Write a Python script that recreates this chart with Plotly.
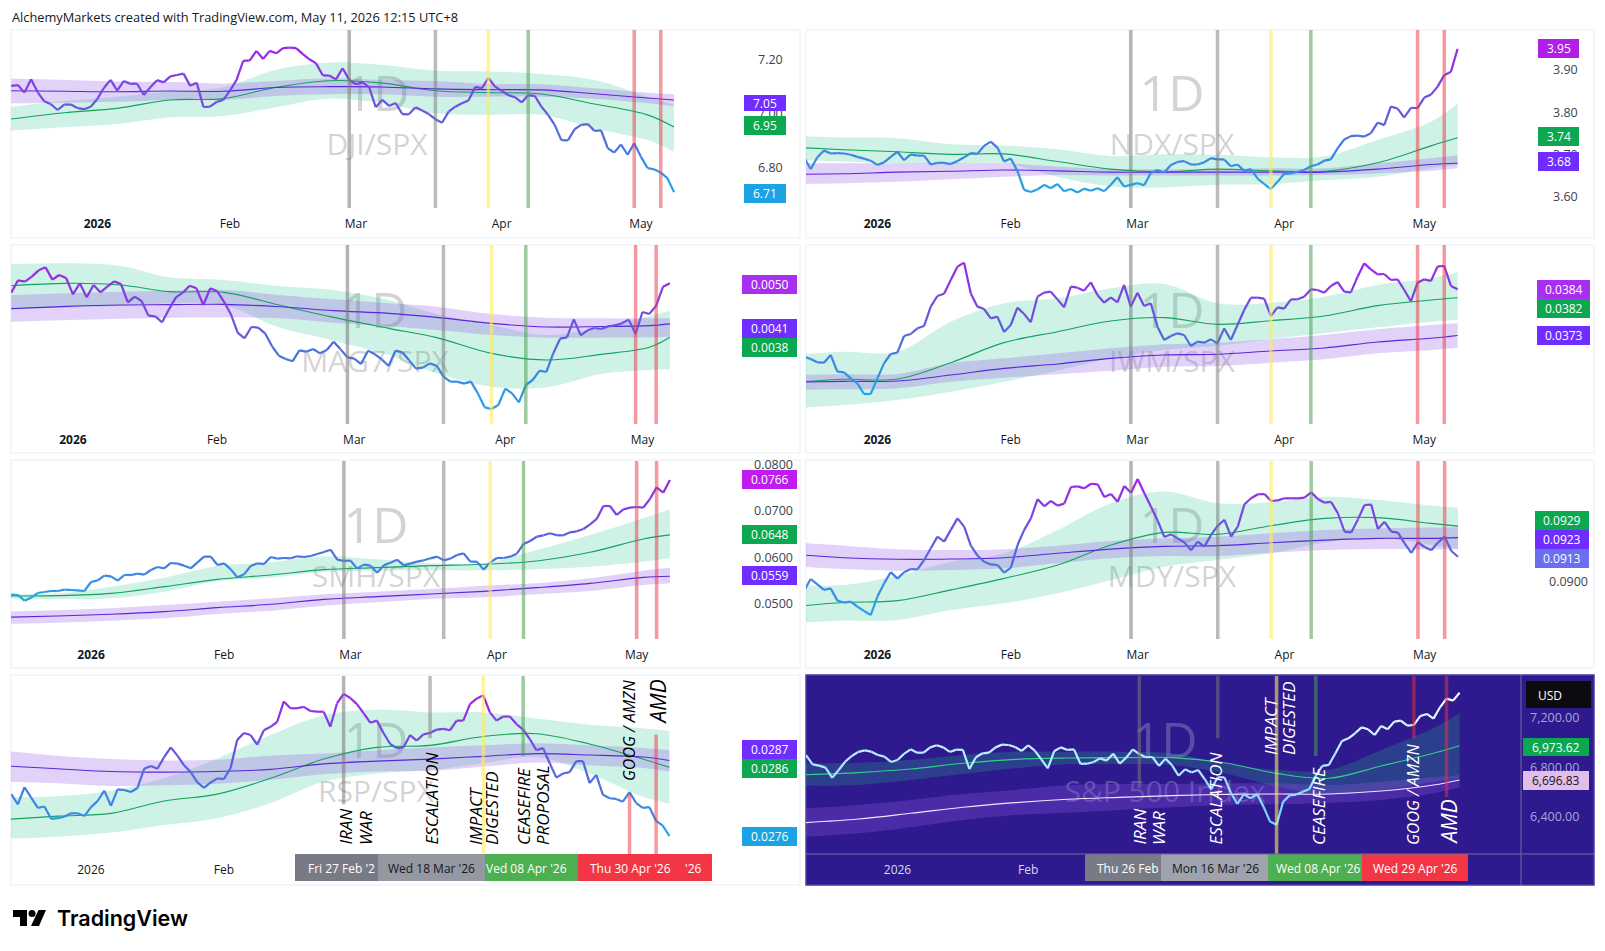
import pandas as pd
import plotly.graph_objects as go

W, H = 1605, 951

MARKET_HOLIDAYS = ["2025-12-25", "2026-01-01", "2026-01-19", "2026-02-16", "2026-04-03"]
TRADING_DAYS = [d.strftime("%Y-%m-%d") for d in pd.bdate_range("2025-12-12", "2026-05-08")
                if d.strftime("%Y-%m-%d") not in MARKET_HOLIDAYS]
DEFAULT_MA_DATES = TRADING_DAYS[0::8] + [TRADING_DAYS[-1]]
MAG7_MA_DATES = [TRADING_DAYS[i] for i in (4, 12, 20, 27, 35, 43, 51, 59, 66, 74, 82, 90, 97, 100)]

TICK_LABELS = ["<b>2026</b>", "Feb", "Mar", "Apr", "May"]
TICK_DATES = ["2026-01-02", "2026-02-02", "2026-03-02", "2026-04-01", "2026-05-01"]
TICK_DATES_MAG7 = ["2026-01-02", "2026-02-03", "2026-03-04", "2026-04-06", "2026-05-04"]
EVENT_DATES = ["2026-02-27", "2026-03-18", "2026-03-30", "2026-04-08", "2026-04-30", "2026-05-06"]
EVENT_DATES_MAG7 = ["2026-03-03", "2026-03-23", "2026-04-01", "2026-04-09", "2026-05-01", "2026-05-06"]
EVENT_DATES_SMH = ["2026-02-27", "2026-03-20", "2026-03-31", "2026-04-08", "2026-05-01", "2026-05-06"]
EVENT_DATES_SPX = ["2026-02-27", "2026-03-17", "2026-03-30", "2026-04-08", "2026-04-29", "2026-05-06"]

# DJI/SPX
DJI_PRICE = [7.102,7.105,7.077,7.126,7.078,7.045,7.034,7.013,7.033,7.033,
             7.020,7.016,7.025,7.054,7.095,7.124,7.084,7.120,7.109,7.110,
             7.068,7.097,7.123,7.115,7.137,7.142,7.147,7.102,7.113,7.024,
             7.025,7.043,7.050,7.084,7.124,7.194,7.196,7.231,7.201,7.231,
             7.222,7.241,7.243,7.241,7.219,7.200,7.185,7.141,7.140,7.126,
             7.167,7.124,7.108,7.115,7.097,7.023,7.051,7.028,7.039,6.998,
             6.997,7.023,7.011,6.998,6.979,6.966,7.007,7.025,7.038,7.048,
             7.098,7.093,7.131,7.099,7.084,7.068,7.060,7.041,7.067,7.065,
             7.025,6.995,6.958,6.902,6.901,6.942,6.958,6.961,6.936,6.938,
             6.872,6.856,6.886,6.848,6.890,6.841,6.799,6.794,6.782,6.762,6.71]
DJI_FAST = [6.980,7.003,7.019,7.050,7.055,7.097,7.121,7.112,7.084,7.077,7.072,7.035,6.995,6.95]
DJI_FAST_UP = [7.025,7.046,7.062,7.081,7.097,7.161,7.188,7.179,7.158,7.155,7.146,7.124,7.062,7.032]
DJI_FAST_LOW = [6.937,6.949,6.961,6.986,6.991,7.023,7.055,7.038,7.001,6.995,6.995,6.945,6.902,6.859]
DJI_SLOW = [7.084,7.082,7.080,7.083,7.082,7.096,7.099,7.098,7.091,7.088,7.087,7.073,7.057,7.05]
DJI_SLOW_UP = [7.129,7.124,7.118,7.116,7.111,7.120,7.130,7.124,7.120,7.109,7.108,7.093,7.077,7.071]
DJI_SLOW_LOW = [7.038,7.040,7.043,7.050,7.050,7.065,7.071,7.071,7.062,7.062,7.062,7.054,7.038,7.028]

# NDX/SPX
NDX_PRICE = [3.694,3.666,3.694,3.710,3.703,3.704,3.703,3.700,3.695,3.691,
             3.686,3.676,3.682,3.695,3.707,3.687,3.701,3.698,3.698,3.677,
             3.681,3.681,3.678,3.685,3.694,3.704,3.702,3.721,3.731,3.717,
             3.684,3.691,3.662,3.617,3.612,3.618,3.629,3.621,3.631,3.614,
             3.619,3.611,3.620,3.615,3.621,3.614,3.629,3.647,3.625,3.629,
             3.633,3.628,3.657,3.664,3.658,3.676,3.683,3.685,3.677,3.677,
             3.682,3.692,3.689,3.689,3.673,3.677,3.662,3.666,3.644,3.631,
             3.619,3.636,3.655,3.656,3.660,3.664,3.673,3.677,3.686,3.689,
             3.715,3.736,3.744,3.745,3.743,3.751,3.776,3.770,3.814,3.809,
             3.788,3.811,3.810,3.835,3.842,3.861,3.888,3.896,3.95]
NDX_FAST = [3.718,3.712,3.707,3.701,3.702,3.684,3.666,3.660,3.666,3.662,3.661,3.681,3.721,3.74]
NDX_FAST_UP = [3.744,3.741,3.739,3.725,3.722,3.713,3.697,3.701,3.700,3.694,3.696,3.735,3.778,3.821]
NDX_FAST_LOW = [3.688,3.684,3.680,3.678,3.680,3.648,3.625,3.623,3.629,3.631,3.640,3.648,3.668,3.676]
NDX_SLOW = [3.654,3.655,3.659,3.661,3.664,3.662,3.659,3.659,3.659,3.659,3.659,3.666,3.677,3.68]
NDX_SLOW_UP = [3.680,3.680,3.680,3.680,3.680,3.672,3.666,3.666,3.666,3.668,3.668,3.680,3.692,3.699]
NDX_SLOW_LOW = [3.631,3.633,3.636,3.642,3.648,3.652,3.651,3.651,3.651,3.651,3.652,3.656,3.662,3.668]

# MAG7/SPX
MAG_PRICE = [0.004793,0.005067,0.005037,0.005148,0.005289,0.005356,0.005082,0.005185,0.005119,0.004756,
             0.005000,0.004689,0.004963,0.004800,0.004926,0.005044,0.004985,0.004578,0.004704,0.004607,
             0.004282,0.004267,0.004133,0.004422,0.004689,0.004793,0.004948,0.004889,0.004519,0.004889,
             0.004830,0.004593,0.004319,0.003904,0.003778,0.004030,0.004015,0.003889,0.003607,0.003393,
             0.003319,0.003267,0.003511,0.003481,0.003541,0.003444,0.003519,0.003704,0.003533,0.003356,
             0.003326,0.003207,0.003504,0.003422,0.003311,0.003163,0.003504,0.003467,0.003289,0.003104,
             0.003126,0.003222,0.003170,0.002926,0.002815,0.002815,0.002770,0.002815,0.002556,0.002244,
             0.002207,0.002296,0.002659,0.002556,0.002356,0.002741,0.002852,0.003059,0.003030,0.003444,
             0.003770,0.003800,0.004200,0.003844,0.003956,0.004007,0.003985,0.004044,0.004067,0.004111,
             0.004193,0.003874,0.004363,0.004319,0.004504,0.004926,0.0050]
MAG_FAST = [0.004948,0.005000,0.004963,0.004815,0.004800,0.004519,0.004244,0.004000,0.003793,0.003444,0.003296,0.003422,0.003578,0.0038]
MAG_FAST_UP = [0.005422,0.005444,0.005385,0.005133,0.005074,0.004941,0.004852,0.004630,0.004319,0.004074,0.003852,0.004022,0.004274,0.004393]
MAG_FAST_LOW = [0.004444,0.004459,0.004496,0.004556,0.004519,0.004022,0.003726,0.003407,0.003000,0.002704,0.002689,0.002985,0.003074,0.003089]
MAG_SLOW = [0.004437,0.004489,0.004519,0.004526,0.004533,0.004481,0.004393,0.004333,0.004244,0.004111,0.004030,0.004040,0.004060,0.0041]
MAG_SLOW_UP = [0.004741,0.004778,0.004815,0.004837,0.004852,0.004741,0.004644,0.004556,0.004481,0.004319,0.004237,0.004222,0.004222,0.004222]
MAG_SLOW_LOW = [0.004148,0.004185,0.004215,0.004237,0.004244,0.004222,0.004126,0.004052,0.003963,0.003852,0.003793,0.003793,0.003800,0.003815]

# IWM/SPX
IWM_PRICE = [0.036797,0.036742,0.036662,0.036654,0.036837,0.036440,0.036424,0.036281,0.036162,0.035908,
             0.035908,0.036281,0.036638,0.036861,0.036892,0.037289,0.037337,0.037472,0.037527,0.037988,
             0.038242,0.038297,0.038623,0.038940,0.039035,0.038305,0.037988,0.037932,0.037710,0.037750,
             0.037384,0.037551,0.037964,0.037813,0.037615,0.038226,0.038321,0.038345,0.038162,0.037972,
             0.038464,0.038440,0.038369,0.038567,0.038265,0.038083,0.038210,0.038091,0.038504,0.037988,
             0.038321,0.038004,0.038067,0.037512,0.037194,0.037289,0.037353,0.037313,0.037051,0.037154,
             0.037131,0.037210,0.037115,0.037472,0.037194,0.037551,0.037908,0.038202,0.038202,0.038178,
             0.037765,0.037972,0.037940,0.038162,0.038162,0.038226,0.038400,0.038385,0.038321,0.038480,
             0.038575,0.038345,0.038329,0.038702,0.039019,0.038877,0.038758,0.038765,0.038623,0.038638,
             0.038385,0.038115,0.038559,0.038638,0.038599,0.038948,0.038956,0.038480,0.0384]
IWM_FAST = [0.036178,0.036258,0.036265,0.036654,0.037131,0.037392,0.037646,0.037726,0.037567,0.037654,0.037765,0.038012,0.038146,0.0382]
IWM_FAST_UP = [0.036837,0.036916,0.036916,0.037631,0.038067,0.038186,0.038424,0.038527,0.038067,0.038083,0.038226,0.038504,0.038662,0.038805]
IWM_FAST_LOW = [0.035567,0.035646,0.035766,0.035964,0.036202,0.036464,0.036757,0.036956,0.037059,0.037218,0.037353,0.037496,0.037631,0.037670]
IWM_SLOW = [0.036186,0.036210,0.036218,0.036361,0.036519,0.036623,0.036757,0.036837,0.036853,0.036932,0.037004,0.037146,0.037234,0.0373]
IWM_SLOW_UP = [0.036361,0.036377,0.036385,0.036638,0.036757,0.036877,0.036996,0.037091,0.037131,0.037210,0.037313,0.037448,0.037551,0.037591]
IWM_SLOW_LOW = [0.036004,0.036019,0.036043,0.036202,0.036297,0.036377,0.036464,0.036559,0.036575,0.036654,0.036734,0.036877,0.036956,0.037012]

# SMH/SPX
SMH_PRICE = [0.05194,0.05186,0.05065,0.05129,0.05230,0.05251,0.05272,0.05272,0.05301,0.05294,
             0.05287,0.05272,0.05466,0.05502,0.05602,0.05588,0.05495,0.05617,0.05617,0.05645,
             0.05624,0.05724,0.05789,0.05760,0.05875,0.05860,0.05817,0.05760,0.05889,0.06011,
             0.06011,0.05831,0.05867,0.05738,0.05566,0.05631,0.05810,0.05867,0.05853,0.06004,
             0.05968,0.05982,0.05975,0.06018,0.06004,0.06025,0.06068,0.06111,0.06161,0.05946,
             0.05918,0.05925,0.05753,0.05839,0.05817,0.05667,0.05824,0.05882,0.05946,0.05824,
             0.05860,0.05903,0.05932,0.05975,0.06011,0.05932,0.05968,0.06047,0.06082,0.05903,
             0.05903,0.05731,0.05889,0.05982,0.05982,0.06011,0.06075,0.06283,0.06348,0.06441,
             0.06470,0.06513,0.06470,0.06470,0.06534,0.06556,0.06606,0.06706,0.06821,0.07100,
             0.07100,0.06907,0.07029,0.07064,0.07079,0.07064,0.07251,0.07502,0.07387,0.0766]
SMH_FAST = [0.05165,0.05172,0.05222,0.05366,0.05523,0.05617,0.05731,0.05774,0.05817,0.05846,0.05918,0.06104,0.06391,0.0648]
SMH_FAST_UP = [0.05201,0.05222,0.05366,0.05559,0.05810,0.05889,0.06018,0.05953,0.05867,0.05867,0.06154,0.06477,0.06835,0.07029]
SMH_FAST_LOW = [0.05115,0.05100,0.05115,0.05258,0.05488,0.05559,0.05688,0.05710,0.05717,0.05717,0.05738,0.05796,0.05903,0.05975]
SMH_SLOW = [0.04706,0.04735,0.04771,0.04828,0.04914,0.04986,0.05093,0.05151,0.05208,0.05265,0.05344,0.05437,0.05566,0.0559]
SMH_SLOW_UP = [0.04828,0.04857,0.04900,0.04971,0.05043,0.05115,0.05201,0.05258,0.05315,0.05387,0.05437,0.05545,0.05710,0.05774]
SMH_SLOW_LOW = [0.04563,0.04591,0.04635,0.04685,0.04778,0.04850,0.04957,0.05029,0.05100,0.05136,0.05201,0.05272,0.05401,0.05437]

# MDY/SPX
MDY_PRICE = [0.08951,0.09014,0.08986,0.08957,0.08965,0.08901,0.08891,0.08896,0.08870,0.08847,
             0.08826,0.08922,0.08991,0.09050,0.09016,0.09049,0.09066,0.09064,0.09113,0.09174,
             0.09235,0.09209,0.09270,0.09330,0.09287,0.09188,0.09136,0.09104,0.09090,0.09087,
             0.09047,0.09073,0.09191,0.09270,0.09330,0.09431,0.09393,0.09421,0.09397,0.09407,
             0.09494,0.09497,0.09487,0.09511,0.09508,0.09442,0.09457,0.09417,0.09499,0.09464,
             0.09536,0.09461,0.09391,0.09318,0.09233,0.09247,0.09226,0.09205,0.09164,0.09209,
             0.09183,0.09244,0.09292,0.09323,0.09235,0.09287,0.09404,0.09435,0.09456,0.09457,
             0.09421,0.09424,0.09435,0.09435,0.09435,0.09438,0.09466,0.09431,0.09412,0.09416,
             0.09357,0.09261,0.09257,0.09325,0.09400,0.09402,0.09275,0.09312,0.09261,0.09256,
             0.09200,0.09150,0.09205,0.09181,0.09164,0.09204,0.09235,0.09160,0.0913]
MDY_FAST = [0.08869,0.08891,0.08901,0.08957,0.09017,0.09087,0.09191,0.09257,0.09247,0.09292,0.09330,0.09334,0.09304,0.0929]
MDY_FAST_UP = [0.08983,0.08983,0.09031,0.09104,0.09148,0.09270,0.09409,0.09470,0.09409,0.09414,0.09443,0.09426,0.09397,0.09386]
MDY_FAST_LOW = [0.08783,0.08797,0.08800,0.08852,0.08887,0.08939,0.09009,0.09078,0.09113,0.09148,0.09205,0.09230,0.09191,0.09170]
MDY_SLOW = [0.09144,0.09125,0.09117,0.09118,0.09125,0.09148,0.09170,0.09184,0.09188,0.09203,0.09217,0.09226,0.09226,0.0923]
MDY_SLOW_UP = [0.09205,0.09188,0.09169,0.09165,0.09169,0.09188,0.09212,0.09226,0.09235,0.09252,0.09270,0.09278,0.09282,0.09284]
MDY_SLOW_LOW = [0.09082,0.09066,0.09057,0.09061,0.09070,0.09096,0.09122,0.09134,0.09134,0.09151,0.09165,0.09170,0.09169,0.09169]

# RSP/SPX
RSP_PRICE = [0.02821,0.02806,0.02831,0.02816,0.02801,0.02803,0.02785,0.02786,0.02788,0.02793,
             0.02793,0.02789,0.02802,0.02811,0.02826,0.02804,0.02828,0.02827,0.02824,0.02830,
             0.02858,0.02862,0.02858,0.02875,0.02889,0.02877,0.02863,0.02853,0.02838,0.02830,
             0.02838,0.02844,0.02843,0.02859,0.02900,0.02910,0.02907,0.02893,0.02914,0.02919,
             0.02926,0.02956,0.02946,0.02946,0.02948,0.02942,0.02941,0.02941,0.02919,0.02953,
             0.02967,0.02961,0.02952,0.02939,0.02925,0.02928,0.02910,0.02894,0.02888,0.02889,
             0.02907,0.02899,0.02908,0.02910,0.02915,0.02916,0.02914,0.02928,0.02928,0.02952,
             0.02960,0.02965,0.02940,0.02928,0.02934,0.02934,0.02923,0.02915,0.02901,0.02885,
             0.02888,0.02866,0.02845,0.02851,0.02853,0.02869,0.02869,0.02837,0.02849,0.02820,
             0.02815,0.02814,0.02810,0.02824,0.02808,0.02801,0.02802,0.02782,0.02775,0.0276]
RSP_FAST = [0.02784,0.02789,0.02793,0.02811,0.02821,0.02844,0.02872,0.02889,0.02892,0.02905,0.02909,0.02894,0.02872,0.0286]
RSP_FAST_UP = [0.02817,0.02818,0.02826,0.02844,0.02873,0.02907,0.02936,0.02944,0.02940,0.02940,0.02931,0.02922,0.02917,0.02913]
RSP_FAST_LOW = [0.02756,0.02759,0.02765,0.02776,0.02786,0.02808,0.02839,0.02851,0.02856,0.02866,0.02875,0.02851,0.02817,0.02807]
RSP_SLOW = [0.02862,0.02858,0.02854,0.02853,0.02854,0.02857,0.02865,0.02869,0.02872,0.02876,0.02880,0.02878,0.02875,0.0287]
RSP_SLOW_UP = [0.02884,0.02877,0.02872,0.02870,0.02871,0.02877,0.02880,0.02885,0.02889,0.02892,0.02895,0.02892,0.02888,0.02885]
RSP_SLOW_LOW = [0.02839,0.02837,0.02833,0.02834,0.02836,0.02842,0.02850,0.02854,0.02855,0.02861,0.02867,0.02863,0.02859,0.02854]

# S&P 500 Index
SPX_PRICE = [6898,6823,6812,6796,6713,6777,6845,6890,6923,6936,
             6925,6898,6885,6842,6858,6907,6944,6917,6917,6960,
             6977,6960,6923,6942,6939,6785,6880,6912,6917,6960,
             6982,6979,6963,6931,6977,6933,6863,6791,6931,6960,
             6939,6944,6826,6828,6842,6871,6853,6909,6828,6877,
             6944,6906,6880,6882,6810,6869,6815,6731,6783,6756,
             6777,6704,6621,6718,6718,6594,6502,6583,6548,6583,
             6481,6360,6335,6521,6572,6578,6602,6621,6731,6810,
             6818,6912,7012,7033,7074,7122,7106,7060,7133,7106,
             7168,7176,7136,7141,7214,7230,7192,7284,7354,7338,7402]
SPX_FAST = [6739,6756,6785,6831,6863,6874,6877,6877,6836,6750,6710,6810,6912,6973.62]
SPX_FAST_UP = [6831,6836,6858,6898,6925,6925,6925,6912,6831,6777,6777,6939,7114,7235]
SPX_FAST_LOW = [6651,6656,6696,6745,6791,6823,6823,6818,6750,6643,6575,6616,6683,6710]
SPX_SLOW = [6352,6381,6427,6476,6513,6540,6556,6570,6580,6583,6583,6607,6656,6696.83]
SPX_SLOW_UP = [6467,6494,6535,6583,6616,6656,6664,6664,6669,6669,6656,6683,6718,6737]
SPX_SLOW_LOW = [6238,6265,6314,6373,6414,6432,6454,6476,6494,6500,6513,6535,6589,6637]

INK = "#131722"
GREEN_BOX, VIOLET_BOX, CYAN_BOX, MAGENTA_BOX = "#0ba84f", "#6f2eff", "#1ba3e3", "#a92ff0"
FONT = "Open Sans"
LIGHT_RAMP = [(0.0, (35, 166, 232)), (0.5, (90, 98, 220)), (1.0, (163, 34, 234))]
DARK_RAMP = [(0.0, (111, 208, 255)), (0.5, (181, 236, 255)), (1.0, (255, 255, 255))]
RAMP_STEPS = 14

# Geometry of the eight panes in page pixels; "pane" is the whole box, "plot" the drawing area.
PANES = [
    dict(symbol="DJI/SPX", price=DJI_PRICE, fast=(DJI_FAST, DJI_FAST_UP, DJI_FAST_LOW), slow=(DJI_SLOW, DJI_SLOW_UP, DJI_SLOW_LOW),
         pane=(11, 30, 800, 238), plot=(11, 30, 749, 208), series_px=(11.2, 674), yrange=(6.6515, 7.308),
         ticks=[7.2, 7.0, 6.8], ticktext=["7.20", "7.00", "6.80"],
         boxes=[("7.05", 95, 111, VIOLET_BOX), ("6.95", 116, 135, GREEN_BOX), ("6.71", 184, 203, CYAN_BOX)], box_x=(744, 786),
         mark=(377, 95, 145)),
    dict(symbol="NDX/SPX", price=NDX_PRICE, fast=(NDX_FAST, NDX_FAST_UP, NDX_FAST_LOW), slow=(NDX_SLOW, NDX_SLOW_UP, NDX_SLOW_LOW),
         pane=(806, 30, 1594, 238), plot=(806, 30, 1544, 208), series_px=(804, 1457.6), yrange=(3.5743, 3.9946),
         ticks=[3.9, 3.8, 3.7, 3.6], ticktext=["3.90", "3.80", "3.70", "3.60"],
         boxes=[("3.95", 39, 58, "#b21ee6"), ("3.74", 127, 146, GREEN_BOX), ("3.68", 152, 171, VIOLET_BOX)], box_x=(1538, 1579),
         mark=(1172, 95, 145)),
    dict(symbol="MAG7/SPX", price=MAG_PRICE, fast=(MAG_FAST, MAG_FAST_UP, MAG_FAST_LOW), slow=(MAG_SLOW, MAG_SLOW_UP, MAG_SLOW_LOW),
         pane=(11, 245, 800, 453), plot=(11, 245, 745, 424), series_px=(11.2, 669.9), yrange=(0.001874, 0.005852),
         boxes=[("0.0050", 275, 294, MAGENTA_BOX), ("0.0041", 319, 338, VIOLET_BOX), ("0.0038", 338, 357, GREEN_BOX)], box_x=(742, 797),
         mark=(375, 312, 362), ma_dates=MAG7_MA_DATES, tick_dates=TICK_DATES_MAG7, events=EVENT_DATES_MAG7),
    dict(symbol="IWM/SPX", price=IWM_PRICE, fast=(IWM_FAST, IWM_FAST_UP, IWM_FAST_LOW), slow=(IWM_SLOW, IWM_SLOW_UP, IWM_SLOW_LOW),
         pane=(806, 245, 1594, 453), plot=(806, 245, 1534, 424), series_px=(804, 1457.6), yrange=(0.035194, 0.039456),
         boxes=[("0.0384", 280, 299, MAGENTA_BOX), ("0.0382", 299, 318, GREEN_BOX), ("0.0373", 326, 345, VIOLET_BOX)], box_x=(1537, 1590),
         mark=(1172, 312, 362)),
    dict(symbol="SMH/SPX", price=SMH_PRICE, fast=(SMH_FAST, SMH_FAST_UP, SMH_FAST_LOW), slow=(SMH_SLOW, SMH_SLOW_UP, SMH_SLOW_LOW),
         pane=(11, 460, 800, 668), plot=(11, 461, 745, 639), series_px=(11.2, 669.9), yrange=(0.04240, 0.08068),
         ticks=[0.08, 0.07, 0.06, 0.05], ticktext=["0.0800", "0.0700", "0.0600", "0.0500"],
         boxes=[("0.0766", 470, 489, "#c01cf0"), ("0.0648", 525, 544, GREEN_BOX), ("0.0559", 566, 585, VIOLET_BOX)], box_x=(742, 797),
         mark=(376, 527, 577), events=EVENT_DATES_SMH),
    dict(symbol="MDY/SPX", price=MDY_PRICE, fast=(MDY_FAST, MDY_FAST_UP, MDY_FAST_LOW), slow=(MDY_SLOW, MDY_SLOW_UP, MDY_SLOW_LOW),
         pane=(806, 460, 1594, 668), plot=(806, 461, 1540, 639), series_px=(804, 1458), yrange=(0.087009, 0.096296),
         ticks=[0.09], ticktext=["0.0900"],
         boxes=[("0.0929", 511, 530, GREEN_BOX), ("0.0923", 530, 549, VIOLET_BOX), ("0.0913", 549, 568, "#6a6ff0")], box_x=(1535, 1589),
         mark=(1172, 527, 577)),
    dict(symbol="RSP/SPX", price=RSP_PRICE, fast=(RSP_FAST, RSP_FAST_UP, RSP_FAST_LOW), slow=(RSP_SLOW, RSP_SLOW_UP, RSP_SLOW_LOW),
         pane=(11, 675, 800, 885), plot=(11, 676, 745, 854), series_px=(11.2, 669.4), yrange=(0.027338, 0.02993),
         boxes=[("0.0287", 740, 759, VIOLET_BOX), ("0.0286", 759, 778, GREEN_BOX), ("0.0276", 827, 846, CYAN_BOX)], box_x=(742, 797),
         mark=(376, 742, 792), tick_dates=TICK_DATES[:2], tick_labels=["2026", "Feb"],
         event_spans=[(0.28, 1), (0.65, 1), (0, 1), (0.55, 1), (0, 0.34), (0, 0.67)]),
    dict(symbol="S&P 500 Index", price=SPX_PRICE, fast=(SPX_FAST, SPX_FAST_UP, SPX_FAST_LOW), slow=(SPX_SLOW, SPX_SLOW_UP, SPX_SLOW_LOW),
         pane=(806, 675, 1594, 885), plot=(806, 676, 1521, 854), series_px=(806, 1459.6), yrange=(6098, 7536.9),
         ticks=[7200, 6800, 6400], ticktext=["7,200.00", "6,800.00", "6,400.00"],
         boxes=[("6,973.62", 738, 756, "#0ba84f"), ("6,696.83", 771, 790, "#e1bee7")], box_x=(1523, 1589),
         mark=(1165, 742, 792), dark=True, tick_dates=["2026-01-05", "2026-02-03"], tick_labels=["2026", "Feb"],
         events=EVENT_DATES_SPX, event_spans=[(0.37, 1), (0.65, 1), (0, 1), (0.55, 1), (0.65, 1), (0.32, 1)]),
]

EVENT_COLOURS = ["rgba(120,120,120,0.55)", "rgba(120,120,120,0.5)", "rgba(255,235,90,0.6)",
                 "rgba(76,160,80,0.55)", "rgba(235,50,65,0.5)", "rgba(235,50,65,0.5)"]

# Rotated call-outs, one entry per printed line: text, centre x, bottom y, font size.
RSP_CALLOUTS = [("IRAN", 345, 847, 17), ("WAR", 365, 847, 17), ("ESCALATION", 431, 847, 17),
                ("IMPACT", 475, 847, 17), ("DIGESTED", 491, 847, 17),
                ("CEASEFIRE", 523, 847, 17), ("PROPOSAL", 542, 847, 17),
                ("GOOG / AMZN", 629, 783, 16), ("AMD", 657, 727, 21)]
SPX_CALLOUTS = [("IRAN", 1139, 847, 17), ("WAR", 1158, 847, 17), ("ESCALATION", 1215, 847, 17),
                ("IMPACT", 1270, 757, 17), ("DIGESTED", 1288, 757, 17), ("CEASEFIRE", 1318, 847, 17),
                ("GOOG / AMZN", 1413, 847, 16), ("AMD", 1448, 847, 21)]

# Date chips on the time scale: left, right, fill, label, label colour, label centre.
RSP_CHIPS = [(295, 378, "#787b86", "Fri 27 Feb '2", "white", 341), (378, 485, "#9598a1", "Wed 18 Mar '26", INK, 431),
             (485, 578, "#4caf50", "Ved 08 Apr '26", "white", 526), (578, 712, "#f23645", "Thu 30 Apr '26", "white", 630),
             (578, 712, "#f23645", "'26", "white", 693)]
SPX_CHIPS = [(1085, 1161, "#787b86", "Thu 26 Feb", "white", 1128), (1161, 1268, "#a0a3ab", "Mon 16 Mar '26", INK, 1215),
             (1268, 1362, "#4caf50", "Wed 08 Apr '26", "white", 1318), (1362, 1468, "#f23645", "Wed 29 Apr '26", "white", 1415)]


def px(x):
    return x / W


def py(y):
    return 1 - y / H


def mix(ramp, t):
    for (t0, c0), (t1, c1) in zip(ramp, ramp[1:]):
        if t <= t1:
            f = (t - t0) / (t1 - t0)
            return "rgb(%d,%d,%d)" % tuple(a + (b - a) * f for a, b in zip(c0, c1))
    return "rgb(%d,%d,%d)" % ramp[-1][1]


fig = go.Figure()
shapes, notes = [], []


def note(text, x, y, size=12, color=INK, xanchor="center", yanchor="middle", angle=0, align="center", family=FONT, weight=None):
    font = dict(size=size, color=color, family=family)
    if weight:
        font["weight"] = weight
    notes.append(dict(text=text, x=px(x), y=py(y), xref="paper", yref="paper", showarrow=False,
                      xanchor=xanchor, yanchor=yanchor, textangle=angle, align=align, font=font))


def watermark(text, x, y, size, color):
    # A borderless box in the lower shape layer keeps the caption behind the series.
    shapes.append(dict(type="rect", xref="paper", yref="paper", x0=px(x - 150), x1=px(x + 150),
                       y0=py(y + 40), y1=py(y - 40), layer="below", line=dict(width=0), fillcolor="rgba(0,0,0,0)",
                       label=dict(text=text, textposition="middle center", font=dict(size=size, color=color, family=FONT))))


def band(xa, ya, dates, upper, lower, color):
    common = dict(x=dates, xaxis=xa, yaxis=ya, mode="lines", hoverinfo="skip", showlegend=False)
    fig.add_trace(go.Scatter(y=upper, line=dict(width=0, shape="spline"), **common))
    fig.add_trace(go.Scatter(y=lower, line=dict(width=0, shape="spline"), fill="tonexty", fillcolor=color, **common))


def ramped_line(xa, ya, dates, values, ramp):
    # The price line shades with its level, so consecutive segments are grouped by colour step.
    low, high = min(values), max(values)
    xs = [[] for _ in range(RAMP_STEPS)]
    ys = [[] for _ in range(RAMP_STEPS)]
    for i in range(len(values) - 1):
        t = ((values[i] + values[i + 1]) / 2 - low) / (high - low)
        k = min(int(t * RAMP_STEPS), RAMP_STEPS - 1)
        xs[k] += [dates[i], dates[i + 1], None]
        ys[k] += [values[i], values[i + 1], None]
    for k in range(RAMP_STEPS):
        if xs[k]:
            fig.add_trace(go.Scatter(x=xs[k], y=ys[k], xaxis=xa, yaxis=ya, mode="lines", hoverinfo="skip", showlegend=False,
                                     connectgaps=False, line=dict(color=mix(ramp, (k + 0.5) / RAMP_STEPS), width=2.2)))


layout = {}
for n, p in enumerate(PANES, start=1):
    suffix = "" if n == 1 else str(n)
    xa, ya = f"x{suffix}", f"y{suffix}"
    dark = p.get("dark", False)
    l, t, r, b = p["pane"]
    pl, pt, pr, pb = p["plot"]

    shapes.append(dict(type="rect", xref="paper", yref="paper", x0=px(l), x1=px(r), y0=py(b), y1=py(t), layer="below",
                       fillcolor="#2e1a8e" if dark else "white", line=dict(color="#4a3ba6" if dark else "#f0f3fa", width=1.5)))

    values = p["price"]
    dates = TRADING_DAYS[-len(values):]
    first_px, last_px = p["series_px"]
    bar_px = (last_px - first_px) / (len(values) - 1)
    last_index = len(TRADING_DAYS) - 1
    x_range = [last_index - (last_px - pl) / bar_px, last_index + (pr - last_px) / bar_px]

    tick_dates = p.get("tick_dates", TICK_DATES)
    tick_labels = p.get("tick_labels", TICK_LABELS)
    axis_font = dict(size=12, family=FONT, color="#d8d8ee" if dark else INK)
    layout[f"xaxis{suffix}"] = dict(domain=[px(pl), px(pr)], anchor=ya, type="category", categoryorder="array",
                                    categoryarray=TRADING_DAYS, range=x_range, tickmode="array", tickvals=tick_dates,
                                    ticktext=tick_labels, tickangle=0, showgrid=False, zeroline=False, showline=False, ticks="",
                                    tickfont=axis_font, ticklabelstandoff=7, automargin=False)
    layout[f"yaxis{suffix}"] = dict(domain=[py(pb), py(pt)], anchor=xa, side="right", range=list(p["yrange"]), showgrid=False,
                                    zeroline=False, showline=False, ticks="", tickmode="array",
                                    tickvals=p.get("ticks", []), ticktext=p.get("ticktext", []),
                                    tickfont=dict(size=12.5, family=FONT, color="#a9a4d8" if dark else "#40434c"),
                                    ticklabelstandoff=8, showticklabels="ticks" in p, automargin=False)

    mx, my1, my2 = p["mark"]
    wash = "rgba(255,255,255,0.22)" if dark else "rgba(150,150,150,0.42)"
    watermark("1D", mx, my1, 50, wash)
    watermark(p["symbol"], mx, my2, 30, wash)

    ma_dates = p.get("ma_dates", DEFAULT_MA_DATES)
    fast, fast_up, fast_low = p["fast"]
    slow, slow_up, slow_low = p["slow"]
    band(xa, ya, ma_dates, fast_up, fast_low, "rgba(38,198,140,0.22)")
    band(xa, ya, ma_dates, slow_up, slow_low, "rgba(150,90,235,0.28)")
    fig.add_trace(go.Scatter(x=ma_dates, y=fast, xaxis=xa, yaxis=ya, mode="lines", hoverinfo="skip", showlegend=False,
                             line=dict(color="#2fd08a" if dark else "#12a35c", width=1.1, shape="spline")))
    fig.add_trace(go.Scatter(x=ma_dates, y=slow, xaxis=xa, yaxis=ya, mode="lines", hoverinfo="skip", showlegend=False,
                             line=dict(color="#efe6ff" if dark else "#5a28d8", width=1.1, shape="spline")))
    ramped_line(xa, ya, dates, values, DARK_RAMP if dark else LIGHT_RAMP)

    # Event markers with their own vertical extents in the last row.
    events = p.get("events", EVENT_DATES)
    spans = p.get("event_spans", [(0, 1)] * 6)
    for day, colour, (y0, y1) in zip(events, EVENT_COLOURS, spans):
        shapes.append(dict(type="line", xref=xa, yref=f"{ya} domain", x0=day, x1=day, y0=y0, y1=y1,
                           line=dict(color=colour, width=3.5)))

    bx0, bx1 = p["box_x"]
    for label, y0, y1, fill in p["boxes"]:
        shapes.append(dict(type="rect", xref="paper", yref="paper", x0=px(bx0), x1=px(bx1), y0=py(y1), y1=py(y0),
                           fillcolor=fill, line=dict(width=0)))
        note(label, (bx0 + bx1) / 2, (y0 + y1) / 2, size=12, color=INK if fill == "#e1bee7" else "white")

for chips in (RSP_CHIPS, SPX_CHIPS):
    for left, right, fill, label, ink, centre in chips:
        shapes.append(dict(type="rect", xref="paper", yref="paper", x0=px(left), x1=px(right), y0=py(881), y1=py(854),
                           fillcolor=fill, line=dict(width=0)))
        note(label, centre, 868, size=12, color=ink)

for text, x_, y_, size in RSP_CALLOUTS:
    note(f"<i>{text}</i>", x_, y_, size=size, color="black", yanchor="bottom", angle=-90)
for text, x_, y_, size in SPX_CALLOUTS:
    note(f"<i>{text}</i>", x_, y_, size=size, color="white", yanchor="bottom", angle=-90)

# Price-scale furniture of the S&P pane.
shapes += [
    dict(type="line", xref="paper", yref="paper", x0=px(806), x1=px(1594), y0=py(854), y1=py(854), line=dict(color="#6e6a9a", width=1)),
    dict(type="line", xref="paper", yref="paper", x0=px(1521), x1=px(1521), y0=py(885), y1=py(675), line=dict(color="#6e6a9a", width=1)),
    dict(type="rect", xref="paper", yref="paper", x0=px(1526), x1=px(1591), y0=py(708), y1=py(681), fillcolor="#0c0c10", line=dict(width=0)),
]
note("USD", 1536, 695, size=12, color="white", xanchor="left")


# TradingView mark: bar, dot and slanted stroke.
def path(points):
    return "M " + " L ".join(f"{px(x):.5f},{py(y):.5f}" for x, y in points) + " Z"


for outline in ([(13, 910), (27, 910), (27, 926), (20, 926), (20, 917), (13, 917)],
                [(38.5, 910), (46, 910), (39, 926), (31, 926)]):
    shapes.append(dict(type="path", xref="paper", yref="paper", path=path(outline), fillcolor="black", line=dict(width=0)))
shapes.append(dict(type="circle", xref="paper", yref="paper", x0=px(28.5), x1=px(35.5), y0=py(917), y1=py(910), fillcolor="black", line=dict(width=0)))

note("AlchemyMarkets created with TradingView.com, May 11, 2026 12:15 UTC+8", 10, 17, size=12.8, color=INK, xanchor="left")
note("TradingView", 55, 918, size=21.5, color="black", xanchor="left", family="Inter", weight=600)

fig.update_layout(width=W, height=H, margin=dict(l=0, r=0, t=0, b=0), paper_bgcolor="white", plot_bgcolor="rgba(0,0,0,0)",
                  showlegend=False, autosize=False, shapes=shapes, annotations=notes, **layout)
fig.write_html("out.html", config={"displayModeBar": False})
